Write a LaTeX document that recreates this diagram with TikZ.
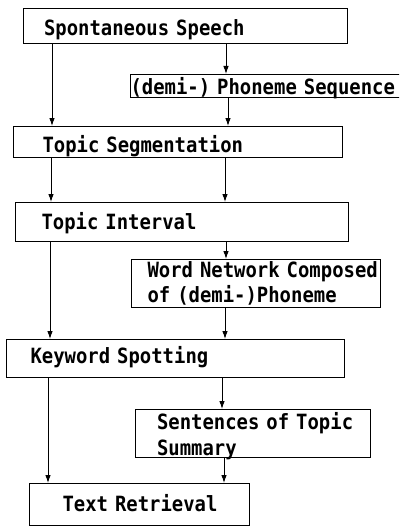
\documentclass[tikz,border=0pt]{standalone}
\usepackage{fontspec}
\newfontfamily\boxfont{DejaVu Sans Mono Bold}[FakeStretch=0.90]
\usetikzlibrary{arrows.meta}
\begin{document}
\begin{tikzpicture}[x=1pt,y=-1pt,
  box/.style={draw, line width=1.2pt, anchor=north west, inner xsep=0pt, inner ysep=0pt,
    align=left, font=\boxfont\fontsize{21}{25.3}\selectfont},
  arr/.style={line width=0.9pt, -{Latex[length=8pt,width=5.5pt]}}]
\clip (0,0) rectangle (399,527);
\fill[white] (0,0) rectangle (399,527);
\node[box, text width=324pt, minimum height=35pt, text height=18.7pt, text depth=0pt] (b1) at (23,8) {\hspace*{20.5pt}Spontaneous Speech};
\node[box, text width=278pt, minimum height=23pt, text height=17.3pt, text depth=0pt] (b2) at (130,74) {\hspace*{0pt}(demi-) Phoneme Sequence};
\node[box, text width=329pt, minimum height=31pt, text height=20.3pt, text depth=0pt] (b3) at (13,126) {\hspace*{29pt}Topic Segmentation};
\node[box, text width=333pt, minimum height=39pt, text height=14pt, text depth=0pt] (b4) at (15,202) {\hspace*{26pt}Topic Interval};
\node[box, text width=249pt, minimum height=48pt, text height=15.3pt, text depth=28.2pt] (b5) at (131,259) {\hspace*{16pt}Word Network Composed\\\hspace*{16pt}of (demi-)Phoneme};
\node[box, text width=338pt, minimum height=38pt, text height=10.3pt, text depth=0pt] (b6) at (6,339) {\hspace*{24pt}Keyword Spotting};
\node[box, text width=235pt, minimum height=48pt, text height=15.3pt, text depth=23pt] (b7) at (135,409) {\hspace*{21.5pt}Sentences of Topic\\\hspace*{21.5pt}Summary};
\node[box, text width=220pt, minimum height=42pt, text height=13.5pt, text depth=0pt] (b8) at (29,483) {\hspace*{33pt}Text Retrieval};
\coordinate (x52) at (52,0);
\coordinate (x226) at (226,0);
\coordinate (x228) at (228,0);
\coordinate (x51) at (51,0);
\coordinate (x225) at (225,0);
\coordinate (x50) at (50,0);
\coordinate (x48) at (48,0);
\coordinate (x222) at (222,0);
\coordinate (x224) at (224,0);
\draw[arr] (b1.south -| x52) -- (b3.north -| x52);
\draw[arr] (b1.south -| x226) -- (b2.north -| x226);
\draw[arr] (b2.south -| x228) -- (b3.north -| x228);
\draw[arr] (b3.south -| x51) -- (b4.north -| x51);
\draw[arr] (b3.south -| x225) -- (b4.north -| x225);
\draw[arr] (b4.south -| x50) -- (b6.north -| x50);
\draw[arr] (b4.south -| x226) -- (b5.north -| x226);
\draw[arr] (b5.south -| x225) -- (b6.north -| x225);
\draw[arr] (b6.south -| x48) -- (b8.north -| x48);
\draw[arr] (b6.south -| x222) -- (b7.north -| x222);
\draw[arr] (b7.south -| x224) -- (b8.north -| x224);
\end{tikzpicture}
\end{document}
